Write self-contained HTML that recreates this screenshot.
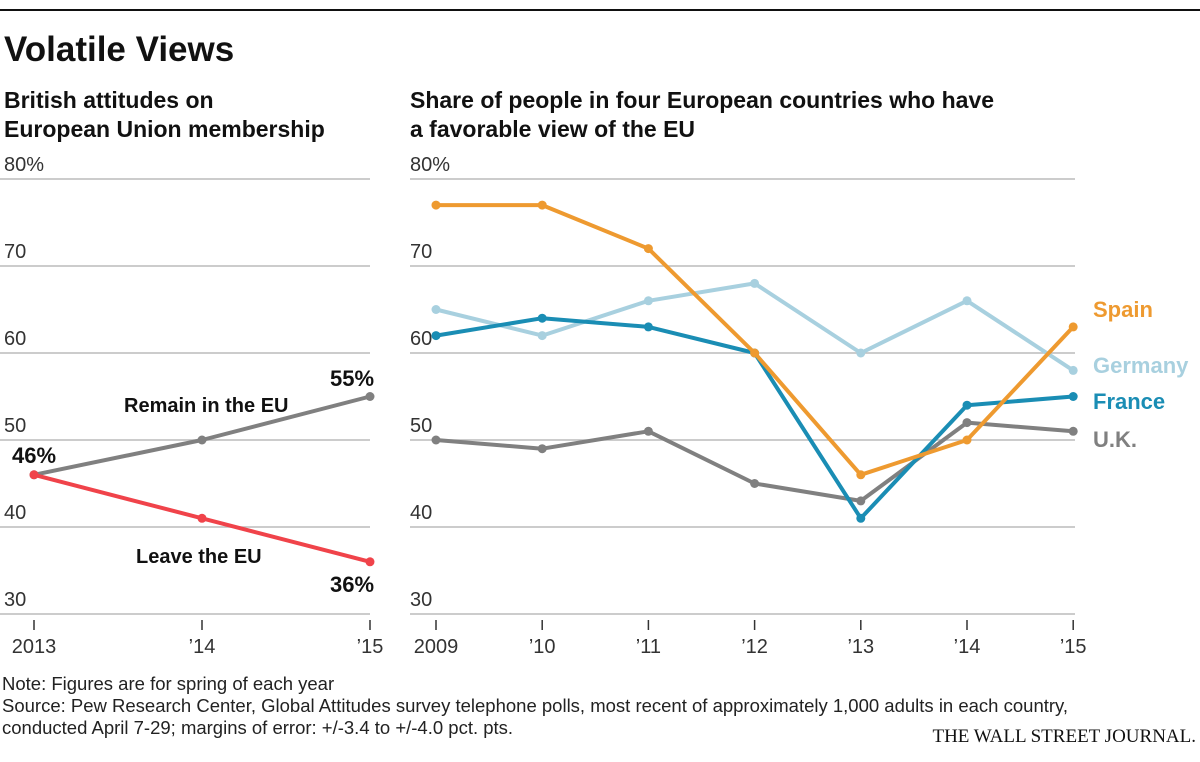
<!DOCTYPE html>
<html><head><meta charset="utf-8"><style>
body{margin:0;background:#fff;width:1200px;height:762px;overflow:hidden;font-family:"Liberation Sans",sans-serif}
svg{display:block}
</style></head><body>
<svg width="1200" height="762">
<line x1="0" y1="10" x2="1200" y2="10" stroke="#111" stroke-width="2"/>
<text x="4" y="61" font-size="35" font-weight="bold" fill="#111">Volatile Views</text>
<text x="4" y="108" font-size="23" font-weight="bold" fill="#111">British attitudes on</text>
<text x="4" y="137" font-size="23" font-weight="bold" fill="#111">European Union membership</text>
<text x="410" y="108" font-size="23" font-weight="bold" fill="#111">Share of people in four European countries who have</text>
<text x="410" y="137" font-size="23" font-weight="bold" fill="#111">a favorable view of the EU</text>
<g id="left"></g>
<g id="right"></g>
<text x="2" y="690" font-size="18.5" fill="#222">Note: Figures are for spring of each year</text>
<text x="2" y="712" font-size="18.5" fill="#222">Source: Pew Research Center, Global Attitudes survey telephone polls, most recent of approximately 1,000 adults in each country,</text>
<text x="2" y="734" font-size="18.5" fill="#222">conducted April 7-29; margins of error: +/-3.4 to +/-4.0 pct. pts.</text>
<text x="1196" y="742" font-size="19" text-anchor="end" font-family="Liberation Serif,serif" fill="#111">THE WALL STREET JOURNAL.</text>
</svg>
<script>
const yTicks=[30,40,50,60,70,80];
const yTickLabels=["30","40","50","60","70","80%"];
const leftYears=["2013","’14","’15"];
const remain=[46,50,55];
const leave=[46,41,36];
const rightYears=["2009","’10","’11","’12","’13","’14","’15"];
const spain=[77,77,72,60,46,50,63];
const germany=[65,62,66,68,60,66,58];
const france=[62,64,63,60,41,54,55];
const uk=[50,49,51,45,43,52,51];
const NS='http://www.w3.org/2000/svg';
function y(v){return 614-(v-30)*8.7;}
function mk(tag,attrs,parent,txt){const e=document.createElementNS(NS,tag);for(const k in attrs)e.setAttribute(k,attrs[k]);if(txt!==undefined)e.textContent=txt;parent.appendChild(e);return e;}
function axes(g,x0,x1,lx,years,xf){
  yTicks.forEach((t,i)=>{
    const l=mk('line',{x1:x0,x2:x1,y1:y(t),y2:y(t),stroke:'#bbb','stroke-width':1.5},g);
    
    
    const tx=mk('text',{x:lx,y:y(t)-8,'font-size':20,fill:'#333'},g,yTickLabels[i]);
    
    
  });
  years.forEach((yr,i)=>{
    const tk=mk('line',{x1:xf(i),x2:xf(i),y1:620,y2:630,stroke:'#333','stroke-width':1.5},g);
    
    
    const tx=mk('text',{x:xf(i),y:653,'font-size':20,fill:'#333','text-anchor':'middle'},g,yr);
    
    
  });
}
function series(g,vals,xf,color,w,name){
  const pts=vals.map((v,i)=>xf(i)+','+y(v)).join(' ');
  const pl=mk('polyline',{points:pts,fill:'none',stroke:color,'stroke-width':w,'stroke-linejoin':'round'},g);
  
  
  vals.forEach((v,i)=>{
    const c=mk('circle',{cx:xf(i),cy:y(v),r:4.5,fill:color},g);
    
    
  });
}
const L=document.getElementById('left');
const lx=i=>34+i*168;
axes(L,0,370,4,leftYears,lx);
series(L,remain,lx,'#808080',4,'remain');
series(L,leave,lx,'#f0434a',4,'leave');
[[124,412,'Remain in the EU','remain-label',20],[136,563,'Leave the EU','leave-label',20],[330,386,'55%','remain-end-label',22],[12,463,'46%','start-label',22],[330,592,'36%','leave-end-label',22]].forEach(a=>{
  const t=mk('text',{x:a[0],y:a[1],'font-size':a[4],'font-weight':'bold',fill:'#111'},L,a[2]);
  
  
});
const R=document.getElementById('right');
const rx=i=>436+i*106.2;
axes(R,410,1075,410,rightYears,rx);
series(R,germany,rx,'#a8d0df',4,'germany');
series(R,uk,rx,'#808080',4,'uk');
series(R,france,rx,'#1a8db4',4,'france');
series(R,spain,rx,'#ee9a30',4,'spain');
[['Spain',317,'#ee9a30'],['Germany',373,'#a8d0df'],['France',409,'#1a8db4'],['U.K.',447,'#808080']].forEach(a=>{
  const t=mk('text',{x:1093,y:a[1],'font-size':22,'font-weight':'bold',fill:a[2]},R,a[0]);
  
  
});
</script>
</body></html>
